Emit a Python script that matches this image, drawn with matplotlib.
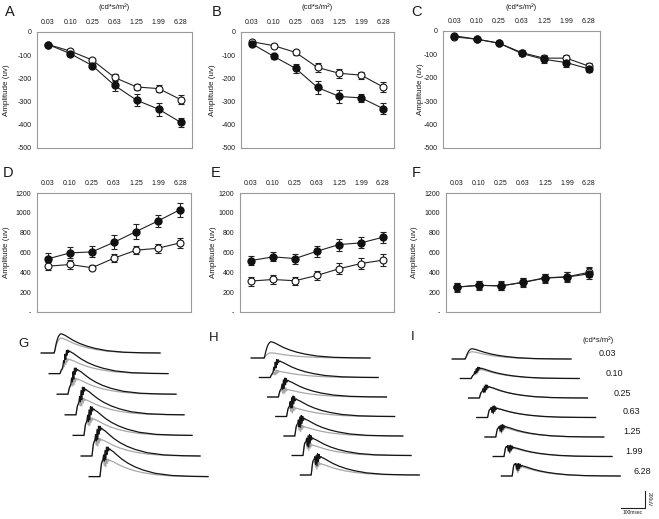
# ERG figure: scotopic a/b-wave amplitudes (A-F) and sample traces (G-I)
import numpy as np
import matplotlib.pyplot as plt

plt.rcParams['font.family'] = ['Liberation Sans', 'DejaVu Sans']

W, H = 659, 519

intensity = ['0.03', '0.10', '0.25', '0.63', '1.25', '1.99', '6.28']

# a-wave amplitudes (uv), filled = group 1, open = group 2
a_fill = [-54, -93, -145, -230, -294, -333, -390]
a_fill_err = [6, 8, 10, 25, 25, 28, 20]
a_open = [-54, -82, -121, -196, -237, -244, -292]
a_open_err = [5, 8, 10, 15, 12, 15, 20]

b_fill = [-51, -105, -157, -239, -278, -284, -330]
b_fill_err = [8, 12, 18, 28, 28, 18, 25]
b_open = [-42, -59, -88, -153, -178, -186, -237]
b_open_err = [6, 6, 10, 18, 20, 15, 20]

c_fill = [-20, -35, -52, -96, -121, -135, -162]
c_fill_err = [5, 5, 8, 12, 15, 18, 15]
c_open = [-25, -35, -52, -92, -116, -116, -150]
c_open_err = [5, 5, 8, 10, 12, 12, 15]

# b-wave amplitudes (uv)
d_fill = [536, 596, 606, 703, 811, 918, 1032]
d_fill_err = [55, 55, 55, 70, 75, 65, 70]
d_open = [462, 479, 446, 543, 623, 643, 697]
d_open_err = [40, 45, 25, 40, 40, 45, 50]

e_fill = [519, 556, 539, 613, 680, 697, 754]
e_fill_err = [45, 45, 50, 55, 60, 55, 55]
e_open = [312, 328, 315, 369, 436, 489, 523]
e_open_err = [45, 50, 40, 45, 55, 60, 60]

f_fill = [251, 268, 265, 298, 342, 352, 385]
f_fill_err = [45, 45, 45, 45, 45, 50, 55]
f_open = [252, 270, 262, 300, 345, 355, 400]
f_open_err = [40, 40, 40, 40, 40, 45, 50]

a_ticks = [0, -100, -200, -300, -400, -500]
a_ticklabels = ['0', '-100', '-200', '-300', '-400', '-500']
b_ticks = [0, 200, 400, 600, 800, 1000, 1200]
b_ticklabels = ['-', '200', '400', '600', '800', '1000', '1200']

# trace shape templates, time in ms after flash
t_knots = np.array([-45, 0, 3, 6, 9, 12, 15, 18, 21, 24, 27, 30, 33, 36, 40, 46,
                    55, 70, 90, 115, 145, 180, 230, 300, 380, 450])
a_shape = np.array([0, 0, -0.45, -0.85, -1.0, -0.85, -0.55, -0.3, -0.12, 0, 0, 0, 0, 0, 0, 0,
                    0, 0, 0, 0, 0, 0, 0, 0, 0, 0])
b_shape = np.array([0, 0, 0, 0, 0, 0.15, 0.35, 0.52, 0.66, 0.78, 0.87, 0.93, 0.97, 1.0, 1.0, 0.97,
                    0.92, 0.8, 0.65, 0.5, 0.36, 0.24, 0.12, 0.04, 0.01, 0])
op_shape = np.array([0, 0, 0, 0, 0, 0, 0.6, -0.5, 1.0, -0.7, 0.9, -0.5, 0.5, -0.2, 0.1, 0,
                     0, 0, 0, 0, 0, 0, 0, 0, 0, 0])

# per trace amplitudes (uv): a-wave, b-wave, oscillatory potentials
g_black = dict(a=[0, -55, -95, -125, -150, -170, -180], b=[225, 260, 285, 295, 305, 320, 320],
               op=[0, 50, 65, 75, 80, 80, 75])
g_gray = dict(a=[0, -45, -85, -120, -145, -165, -175], b=[175, 165, 175, 175, 190, 190, 190],
              op=[0, 30, 40, 45, 45, 45, 45])
h_black = dict(a=[0, -45, -85, -110, -135, -155, -175], b=[190, 190, 190, 200, 200, 200, 210],
               op=[0, 50, 65, 75, 75, 80, 75])
h_gray = dict(a=[0, -35, -70, -95, -120, -145, -160], b=[60, 70, 85, 95, 105, 120, 130],
              op=[0, 30, 40, 45, 45, 45, 45])
i_black = dict(a=[0, -40, -70, -95, -105, -115, -140], b=[120, 120, 130, 105, 120, 105, 120],
               op=[0, 30, 40, 45, 45, 45, 45])
i_gray = dict(a=[0, -40, -70, -95, -105, -115, -140], b=[85, 105, 130, 105, 105, 95, 105],
              op=[0, 40, 55, 55, 55, 55, 60])

fig = plt.figure(figsize=(W / 100, H / 100), dpi=100)
TXT = '#1a1a1a'


def px_rect(l, t, r, b):
    return [l / W, 1 - b / H, (r - l) / W, (b - t) / H]


panels = [
    ('A', (37, 32, 192, 148), a_fill, a_fill_err, a_open, a_open_err, 'a', 7, (10, 12)),
    ('B', (241, 32, 394, 148), b_fill, b_fill_err, b_open, b_open_err, 'a', 213, (217, 12)),
    ('C', (443, 31, 600, 148), c_fill, c_fill_err, c_open, c_open_err, 'a', 421, (417, 12)),
    ('D', (37, 193, 191, 312), d_fill, d_fill_err, d_open, d_open_err, 'b', 7, (8, 173)),
    ('E', (240, 193, 394, 312), e_fill, e_fill_err, e_open, e_open_err, 'b', 214, (216, 173)),
    ('F', (446, 193, 600, 312), f_fill, f_fill_err, f_open, f_open_err, 'b', 415, (416, 173)),
]

x = np.arange(len(intensity))
for name, rect, yf, ef, yo, eo, kind, ylab_x, letter in panels:
    ax = fig.add_axes(px_rect(*rect))
    ax.errorbar(x, yo, yerr=eo, fmt='-o', color='#222222', mfc='white', mec='#111111',
                ms=5, lw=0.8, elinewidth=0.8, capsize=2, capthick=0.8, mew=0.8)
    ax.errorbar(x, yf, yerr=ef, fmt='-o', color='#222222', mfc='#111111', mec='#111111',
                ms=5, lw=0.8, elinewidth=0.8, capsize=2, capthick=0.8)
    ax.set_xlim(-0.5, 6.5)
    if kind == 'a':
        ax.set_ylim(-500, 0)
        ax.set_yticks(a_ticks, a_ticklabels)
    else:
        ax.set_ylim(0, 1200)
        ax.set_yticks(b_ticks, b_ticklabels)
    ax.xaxis.tick_top()
    ax.set_xticks(x, intensity)
    ax.tick_params(length=0, labelsize=5, colors=TXT)
    ax.tick_params(axis='x', pad=4)
    ax.tick_params(axis='y', pad=4)
    for s in ax.spines.values():
        s.set_color('#9a9a9a')
        s.set_linewidth(0.8)
    ax.set_ylabel('Amplitude (uv)', fontsize=5.8, color=TXT)
    l, t, r, b = rect
    ax.yaxis.set_label_coords((ylab_x + 3 - l) / (r - l), 0.5)
    fig.text(letter[0] / W, 1 - letter[1] / H, name, fontsize=10.5, color=TXT,
             ha='center', va='center')
    if kind == 'a':
        fig.text((l + r) / 2 / W, 1 - 7 / H, '(cd*s/m²)', fontsize=5.5, color=TXT,
                 ha='center', va='center')

# ERG traces
MS_PER_PX = 100 / 24
UV_PER_PX = 200 / 17
TOP = 320
tax = fig.add_axes([0, 0, 1, (H - TOP) / H])
tax.set_xlim(0, W * MS_PER_PX)
tax.set_ylim(-(H - TOP) * UV_PER_PX, 0)
tax.axis('off')


def to_data(px, py):
    return px * MS_PER_PX, -(py - TOP) * UV_PER_PX


trace_panels = [
    ('G', (52, 353), 8.0, 20.6, g_black, g_gray, (23, 344)),
    ('H', (262, 358), 8.2, 19.5, h_black, h_gray, (214, 338)),
    ('I', (463, 359), 8.2, 19.5, i_black, i_gray, (413, 337)),
]
for name, origin, dx, dy, blk, gry, letter in trace_panels:
    ox, oy = to_data(*origin)
    for i in range(len(intensity)):
        xs = t_knots + ox + i * dx * MS_PER_PX
        y0 = oy - i * dy * UV_PER_PX
        for amp, col, lw in ((gry, '#a8a8a8', 0.9), (blk, '#151515', 0.9)):
            wave = amp['a'][i] * a_shape + amp['b'][i] * b_shape + amp['op'][i] * op_shape
            tax.plot(xs, wave + y0, color=col, lw=lw)
    fig.text(letter[0] / W, 1 - letter[1] / H, name, fontsize=9.5, color=TXT,
             ha='center', va='center')

# intensity labels next to panel I
lab_pos = [(607, 353), (614, 373), (622, 393), (631, 412), (632, 432), (634, 452), (642, 472)]
fig.text(598 / W, 1 - 340 / H, '(cd*s/m²)', fontsize=5.5, color=TXT, ha='center', va='center')
for lab, (px, py) in zip(intensity, lab_pos):
    fig.text(px / W, 1 - py / H, lab, fontsize=6.5, color=TXT, ha='center', va='center')

# scale bar: 100 msec x 200 uV
cx, cy = to_data(645, 508)
tax.plot([cx - 100, cx, cx], [cy, cy, cy + 200], color='#222222', lw=0.8)
tax.text(cx - 50, cy - 5 * UV_PER_PX, '100msec', fontsize=3.5, ha='center', va='center', color=TXT)
tax.text(cx + 4 * MS_PER_PX, cy + 100, '200uV', fontsize=3.5, rotation=-90,
         ha='center', va='center', color=TXT)

fig.savefig('out.png', dpi=100)
